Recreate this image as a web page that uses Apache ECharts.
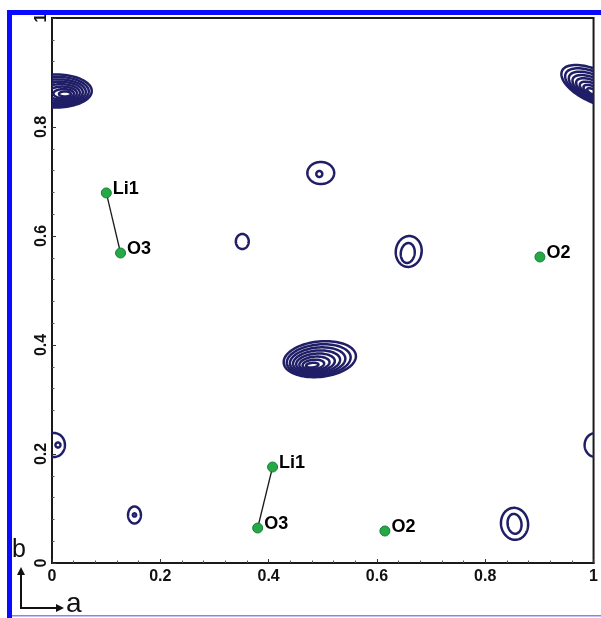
<!DOCTYPE html>
<html>
<head>
<meta charset="utf-8">
<script src="https://cdn.jsdelivr.net/npm/echarts@6/dist/echarts.min.js"></script>
<style>
  html, body { margin: 0; padding: 0; background: #ffffff; }
  #chart { width: 601px; height: 618px; }
</style>
</head>
<body>
<div id="chart"></div>
<script>
// Fractional coordinates along a (horizontal) and b (vertical)
const tickValues = [0, 0.2, 0.4, 0.6, 0.8, 1];

// Contour rings of the density map: [a, b, half-width along a, half-width along b, tilt in degrees]
const ringsCornerLeft = [
  [0.0073, 0.8661, 0.0661, 0.0303, 0],
  [0.0097, 0.8653, 0.0582, 0.0266, 0],
  [0.0121, 0.8644, 0.0503, 0.0229, 0],
  [0.0145, 0.8637, 0.0424, 0.0193, 0],
  [0.0167, 0.8629, 0.0347, 0.0156, 0],
  [0.0191, 0.8622, 0.0268, 0.0119, 0],
  [0.0215, 0.8613, 0.0189, 0.0083, 0],
  [0.0239, 0.8606, 0.0110, 0.0046, 0]
];
const ringsCornerRight = [
  [1.0018, 0.8752, 0.0661, 0.0294, -25],
  [1.0017, 0.8736, 0.0585, 0.0259, -25],
  [1.0013, 0.8721, 0.0508, 0.0222, -25],
  [1.0011, 0.8704, 0.0433, 0.0187, -25],
  [1.0007, 0.8690, 0.0356, 0.0152, -25],
  [1.0006, 0.8673, 0.0281, 0.0117, -25],
  [1.0002, 0.8659, 0.0204, 0.0081, -25],
  [1.0000, 0.8642, 0.0128, 0.0046, -25]
];
const ringsCentre = [
  [0.4945, 0.3740, 0.0670, 0.0325, 6],
  [0.4925, 0.3724, 0.0592, 0.0285, 6],
  [0.4905, 0.3708, 0.0514, 0.0245, 6],
  [0.4886, 0.3692, 0.0436, 0.0205, 6],
  [0.4866, 0.3676, 0.0358, 0.0165, 6],
  [0.4846, 0.3660, 0.0280, 0.0125, 6],
  [0.4826, 0.3644, 0.0200, 0.0085, 6],
  [0.4806, 0.3630, 0.0115, 0.0042, 6]
];
const ringsIsolated = [
  [0.4963, 0.7156, 0.0248, 0.0202, 0],
  [0.4936, 0.7138, 0.0055, 0.0055, 0],
  [0.3514, 0.5899, 0.0119, 0.0138, 0],
  [0.6587, 0.5716, 0.0239, 0.0284, -8],
  [0.6569, 0.5688, 0.0128, 0.0183, -8],
  [0.0037, 0.2165, 0.0202, 0.0220, 0],
  [0.0110, 0.2165, 0.0046, 0.0046, 0],
  [1.0037, 0.2165, 0.0202, 0.0220, 0],
  [0.1523, 0.0881, 0.0119, 0.0156, 0],
  [0.1523, 0.0881, 0.0030, 0.0030, 0],
  [0.8541, 0.0719, 0.0250, 0.0294, 8],
  [0.8541, 0.0719, 0.0128, 0.0183, 8]
];

// Atom sites
const atomNames = ['Li1', 'O3', 'O2', 'Li1', 'O3', 'O2'];
const atomA = [0.1003, 0.1266, 0.9010, 0.4073, 0.3798, 0.6147];
const atomB = [0.6790, 0.5688, 0.5615, 0.1761, 0.0642, 0.0587];
// Li–O bonds, as index pairs into the atom lists
const bonds = [[0, 1], [3, 4]];

const contourColor = '#201e66';

function renderRing(params, api) {
  const a = api.value(0), b = api.value(1);
  const ra = api.value(2), rb = api.value(3);
  const rot = api.value(4) * Math.PI / 180;
  const pts = [];
  const n = 90;
  for (let i = 0; i < n; i++) {
    const t = (i / n) * Math.PI * 2;
    const u = ra * Math.cos(t), v = rb * Math.sin(t);
    pts.push(api.coord([
      a + u * Math.cos(rot) - v * Math.sin(rot),
      b + u * Math.sin(rot) + v * Math.cos(rot)
    ]));
  }
  return {
    type: 'polygon',
    shape: { points: pts },
    style: { fill: 'none', stroke: contourColor, lineWidth: 2.5 }
  };
}

const allRings = [].concat(ringsCornerLeft, ringsCornerRight, ringsCentre, ringsIsolated);

const atomData = atomNames.map((name, i) => ({ name: name, value: [atomA[i], atomB[i]] }));

const bondSeries = bonds.map(([i, j]) => ({
  type: 'line',
  data: [[atomA[i], atomB[i]], [atomA[j], atomB[j]]],
  symbol: 'none',
  lineStyle: { color: '#1a1a1a', width: 1.3 },
  silent: true,
  z: 3
}));

const tickLabelStyle = {
  fontFamily: '"Liberation Sans", Arial, sans-serif',
  fontWeight: 'bold',
  fontSize: 16,
  color: '#111111'
};

const chart = echarts.init(document.getElementById('chart'), null, { renderer: 'canvas' });

chart.setOption({
  backgroundColor: '#ffffff',
  animation: false,
  grid: {
    left: 52, top: 18, right: 4, bottom: 55,
    show: true, borderColor: '#1a1a1a', borderWidth: 2, backgroundColor: 'transparent'
  },
  xAxis: {
    type: 'value', min: 0, max: 1, interval: 0.2,
    axisLine: { show: true, lineStyle: { color: '#1a1a1a', width: 2 } },
    axisTick: { show: true, inside: true, length: 4, lineStyle: { color: '#333', width: 1 } },
    minorTick: { show: true, splitNumber: 5, length: 2.5, lineStyle: { color: '#555', width: 1 } },
    splitLine: { show: false },
    axisLabel: Object.assign({ margin: 6, formatter: v => tickValues.includes(v) ? String(v) : '' }, tickLabelStyle)
  },
  yAxis: {
    type: 'value', min: 0, max: 1, interval: 0.2,
    axisLine: { show: true, lineStyle: { color: '#1a1a1a', width: 2 } },
    axisTick: { show: true, inside: true, length: 4, lineStyle: { color: '#333', width: 1 } },
    minorTick: { show: true, splitNumber: 5, length: 2.5, lineStyle: { color: '#555', width: 1 } },
    splitLine: { show: false },
    axisLabel: Object.assign({ rotate: 90, margin: 2, formatter: v => tickValues.includes(v) ? String(v) : '' }, tickLabelStyle)
  },
  series: [
    {
      type: 'custom',
      renderItem: renderRing,
      data: allRings,
      encode: { x: 0, y: 1 },
      clip: true,
      silent: true,
      z: 2
    }
  ].concat(bondSeries, [
    {
      type: 'scatter',
      data: atomData,
      symbol: 'circle',
      symbolSize: 10,
      itemStyle: { color: '#25a846', borderColor: '#14803a', borderWidth: 1, opacity: 1 },
      label: {
        show: true,
        formatter: p => p.name,
        position: 'right',
        distance: 1,
        offset: [0, -4],
        fontFamily: '"Liberation Sans", Arial, sans-serif',
        fontWeight: 'bold',
        fontSize: 18,
        color: '#000000',
        opacity: 1
      },
      z: 5
    }
  ]),
  graphic: [
    // blue frame
    { type: 'rect', shape: { x: 7, y: 10, width: 5, height: 608 }, style: { fill: '#0a0aff' }, z: 100 },
    { type: 'rect', shape: { x: 7, y: 10, width: 594, height: 5 }, style: { fill: '#0a0aff' }, z: 100 },
    { type: 'rect', shape: { x: 12, y: 615, width: 589, height: 1.5 }, style: { fill: '#8585f2' }, z: 100 },
    // cell-axis indicator
    { type: 'line', shape: { x1: 21, y1: 608, x2: 21, y2: 573 }, style: { stroke: '#111', lineWidth: 2 }, z: 100 },
    { type: 'polygon', shape: { points: [[17, 575], [25, 575], [21, 567]] }, style: { fill: '#111' }, z: 100 },
    { type: 'line', shape: { x1: 20, y1: 608, x2: 57, y2: 608 }, style: { stroke: '#111', lineWidth: 2 }, z: 100 },
    { type: 'polygon', shape: { points: [[56, 604], [56, 612], [64, 608]] }, style: { fill: '#111' }, z: 100 },
    { type: 'text', x: 12, y: 538, style: { text: 'b', font: '25px "Liberation Sans", Arial, sans-serif', fill: '#111' }, z: 100 },
    { type: 'text', x: 66, y: 590, style: { text: 'a', font: '28px "Liberation Sans", Arial, sans-serif', fill: '#111' }, z: 100 }
  ]
});
</script>
</body>
</html>
